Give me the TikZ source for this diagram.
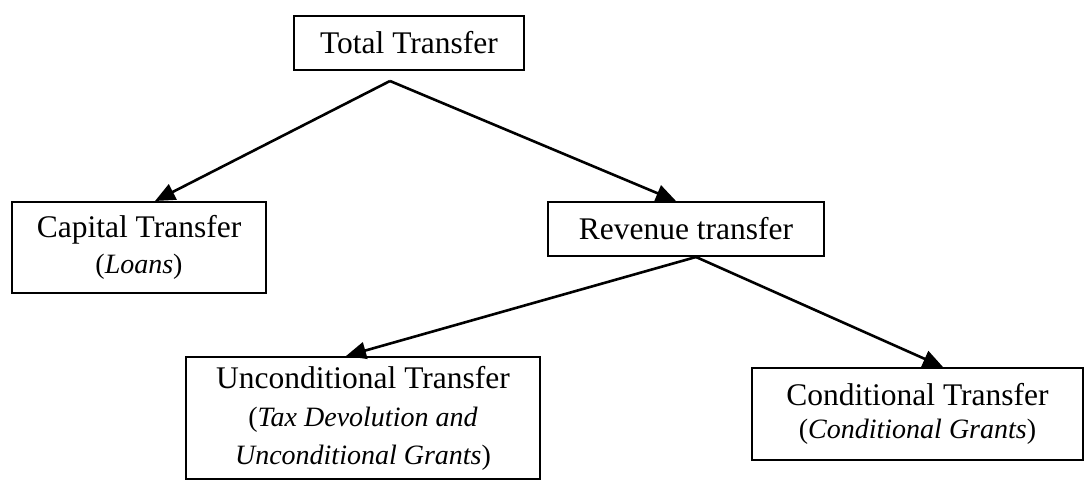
\documentclass[tikz,border=0pt]{standalone}
\usepackage{fontspec}
\setmainfont{Liberation Serif}
\usetikzlibrary{arrows.meta}
\newcommand{\subsz}{\fontsize{28}{38}\selectfont}
\begin{document}
\begin{tikzpicture}[x=1pt,y=-1pt,
  box/.style={draw,line width=2pt,rectangle,inner sep=0pt,align=center,
    font=\fontsize{31.5}{36}\selectfont},
  conn/.style={line width=2.6pt,-{Triangle[length=20pt,width=17pt]}}]
\useasboundingbox (0,0) rectangle (1086,480);
\node[box,minimum width=230pt,minimum height=54pt] (tot) at (409,43) {Total Transfer};
\node[box,minimum width=254pt,minimum height=91pt] (cap) at (139,247.5)
  {Capital Transfer\\{\subsz(\textit{Loans})}};
\node[box,minimum width=276pt,minimum height=54pt] (rev) at (686,229) {Revenue transfer};
\node[box,minimum width=354pt,minimum height=122pt] (unc) at (363,418)
  {Unconditional Transfer\\[2pt]{\subsz(\textit{Tax Devolution and}}\\[2pt]{\subsz\textit{Unconditional Grants})}};
\node[box,minimum width=331pt,minimum height=92pt] (con) at (917.5,414)
  {Conditional Transfer\\[-3pt]{\subsz(\textit{Conditional Grants})}};
\coordinate (a1) at ([xshift=-19pt,yshift=-10pt]tot.south);
\coordinate (a2) at ([xshift=10pt]rev.south);
\draw[conn] (a1) -- ([xshift=16pt]cap.north);
\draw[conn] (a1) -- ([xshift=-10pt]rev.north);
\draw[conn] (a2) -- ([xshift=-17pt]unc.north);
\draw[conn] (a2) -- ([xshift=25.5pt]con.north);
\end{tikzpicture}
\end{document}
